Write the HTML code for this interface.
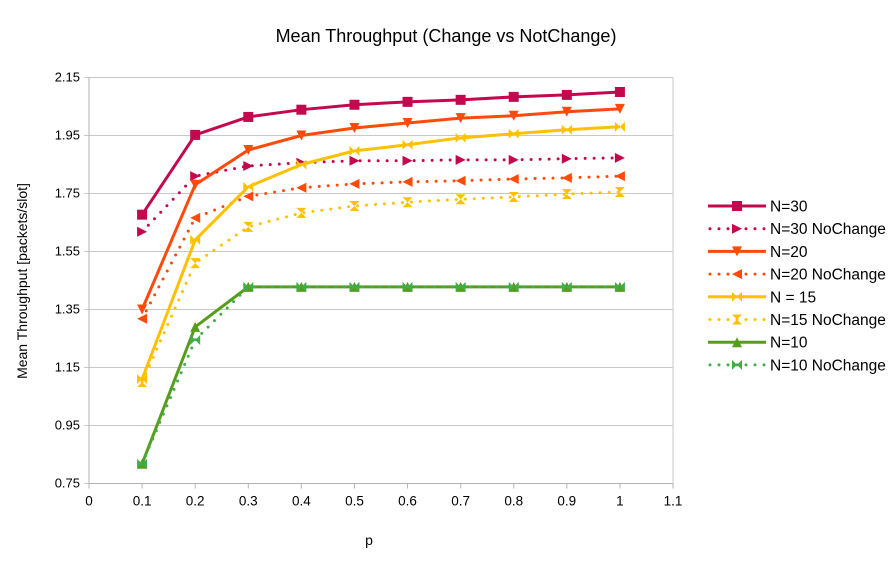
<!DOCTYPE html>
<html><head><meta charset="utf-8"><style>
body{margin:0;background:#fff;font-family:"Liberation Sans",sans-serif;}
svg{display:block}
</style></head><body>
<svg id="c" width="894" height="563" font-family="Liberation Sans, sans-serif">
<text x="446" y="42" text-anchor="middle" font-size="18" fill="#000">Mean Throughput (Change vs NotChange)</text>
<text transform="translate(27,281) rotate(-90)" text-anchor="middle" font-size="14">Mean Throughput [packets/slot]</text>
<text x="369" y="545" text-anchor="middle" font-size="14">p</text>
<g id="grid"></g><g id="series"></g><g id="legend"></g>
</svg>
<script>
const pValues=[0.1,0.2,0.3,0.4,0.5,0.6,0.7,0.8,0.9,1.0];
const yTicks=[0.75,0.95,1.15,1.35,1.55,1.75,1.95,2.15];
const xTicks=[0,0.1,0.2,0.3,0.4,0.5,0.6,0.7,0.8,0.9,1,1.1];
const n30=[1.677,1.952,2.014,2.039,2.056,2.066,2.073,2.083,2.09,2.10];
const n30nc=[1.618,1.81,1.845,1.856,1.863,1.863,1.866,1.866,1.87,1.873];
const n20=[1.35,1.78,1.90,1.95,1.976,1.993,2.01,2.018,2.032,2.042];
const n20nc=[1.318,1.666,1.74,1.77,1.783,1.79,1.794,1.80,1.804,1.81];
const n15=[1.11,1.59,1.773,1.85,1.897,1.918,1.942,1.956,1.97,1.98];
const n15nc=[1.10,1.51,1.635,1.683,1.707,1.72,1.73,1.738,1.748,1.755];
const n10=[0.818,1.29,1.428,1.428,1.428,1.428,1.428,1.428,1.428,1.428];
const n10nc=[0.818,1.245,1.428,1.428,1.428,1.428,1.428,1.428,1.428,1.428];
const seriesNames=["N=30","N=30 NoChange","N=20","N=20 NoChange","N = 15","N=15 NoChange","N=10","N=10 NoChange"];
const NS="http://www.w3.org/2000/svg";
const X0=89,X1=673,Y0=483.5,Y1=77.5;
const xs=v=>X0+(v-0)/(1.1)*(X1-X0);
const ys=v=>Y0-(v-0.75)/(1.4)*(Y0-Y1);
function mk(tag,at,parent){const e=document.createElementNS(NS,tag);for(const k in at)e.setAttribute(k,at[k]);parent.appendChild(e);return e;}
const grid=document.getElementById('grid');
yTicks.forEach(t=>{
 const l=mk('line',{x1:X0-5,x2:X1,y1:ys(t),y2:ys(t),stroke:'#c8c8c8','stroke-width':1},grid);
 
 
 const tx=mk('text',{x:X0-9,y:ys(t)+4,'text-anchor':'end','font-size':13},grid);tx.textContent=t.toFixed(2);
 
 
});
mk('line',{x1:X0,x2:X0,y1:Y1,y2:Y0+5,stroke:'#b3b3b3'},grid);
mk('line',{x1:X1,x2:X1,y1:Y1,y2:Y0,stroke:'#c8c8c8'},grid);
mk('line',{x1:X0,x2:X1,y1:Y0,y2:Y0,stroke:'#b3b3b3'},grid);
xTicks.forEach(t=>{
 mk('line',{x1:xs(t),x2:xs(t),y1:Y0,y2:Y0+5,stroke:'#b3b3b3'},grid);
 const tx=mk('text',{x:xs(t),y:Y0+22,'text-anchor':'middle','font-size':13.5},grid);tx.textContent=String(t);
 
 
});
function marker(type,x,y,c,g){
 const s=5;let d;
 if(type==='sq')d=`M${x-s},${y-s}h${2*s}v${2*s}h${-2*s}z`;
 else if(type==='right')d=`M${x-s},${y-s}L${x+s},${y}L${x-s},${y+s}z`;
 else if(type==='down')d=`M${x-s},${y-s}L${x+s},${y-s}L${x},${y+s}z`;
 else if(type==='left')d=`M${x+s},${y-s}L${x-s},${y}L${x+s},${y+s}z`;
 else if(type==='bowv')d=`M${x-s},${y-s}L${x+s},${y-s}L${x-s},${y+s}L${x+s},${y+s}z`;
 else if(type==='bowh')d=`M${x-s},${y-s}L${x+s},${y+s}L${x+s},${y-s}L${x-s},${y+s}z`;
 else if(type==='up')d=`M${x-s},${y+s}L${x+s},${y+s}L${x},${y-s}z`;
 return mk('path',{d,fill:c},g);
}
const defs=[
 [n30,'#c4084f',false,'sq'],[n30nc,'#c4084f',true,'right'],
 [n20,'#ff4a0b',false,'down'],[n20nc,'#ff4a0b',true,'left'],
 [n15,'#ffc000',false,'bowh'],[n15nc,'#ffc000',true,'bowv'],
 [n10,'#579d1c',false,'up'],[n10nc,'#3fae4a',true,'bowh']];
const sg=document.getElementById('series'),lg=document.getElementById('legend');
defs.forEach((d,i)=>{
 const [vals,c,dot,m]=d;
 const g=mk('g',{},sg);
 
 
 const pts=vals.map((v,j)=>xs(pValues[j])+','+ys(v)).join(' ');
 const pl=mk('polyline',{points:pts,fill:'none',stroke:c,'stroke-width':3,'stroke-linejoin':'round'},g);
 if(dot){pl.setAttribute('stroke-dasharray','0 9');pl.setAttribute('stroke-linecap','round');pl.setAttribute('stroke-width',3);}
 vals.forEach((v,j)=>{const p=marker(m,xs(pValues[j]),ys(v),c,g);
  
  });
 const ly=206+i*22.7;
 const le=mk('g',{},lg);
 
 
 const ll=mk('line',{x1:708,x2:766,y1:ly,y2:ly,stroke:c,'stroke-width':3},le);
 if(dot){ll.setAttribute('stroke-dasharray','0 9');ll.setAttribute('stroke-linecap','round');ll.setAttribute('x1',710);ll.setAttribute('stroke-width',3);}
 marker(m,737,ly,c,le);
 const t=mk('text',{x:770,y:ly+5.5,'font-size':15.5},le);t.textContent=seriesNames[i];
});
</script>
</body></html>
